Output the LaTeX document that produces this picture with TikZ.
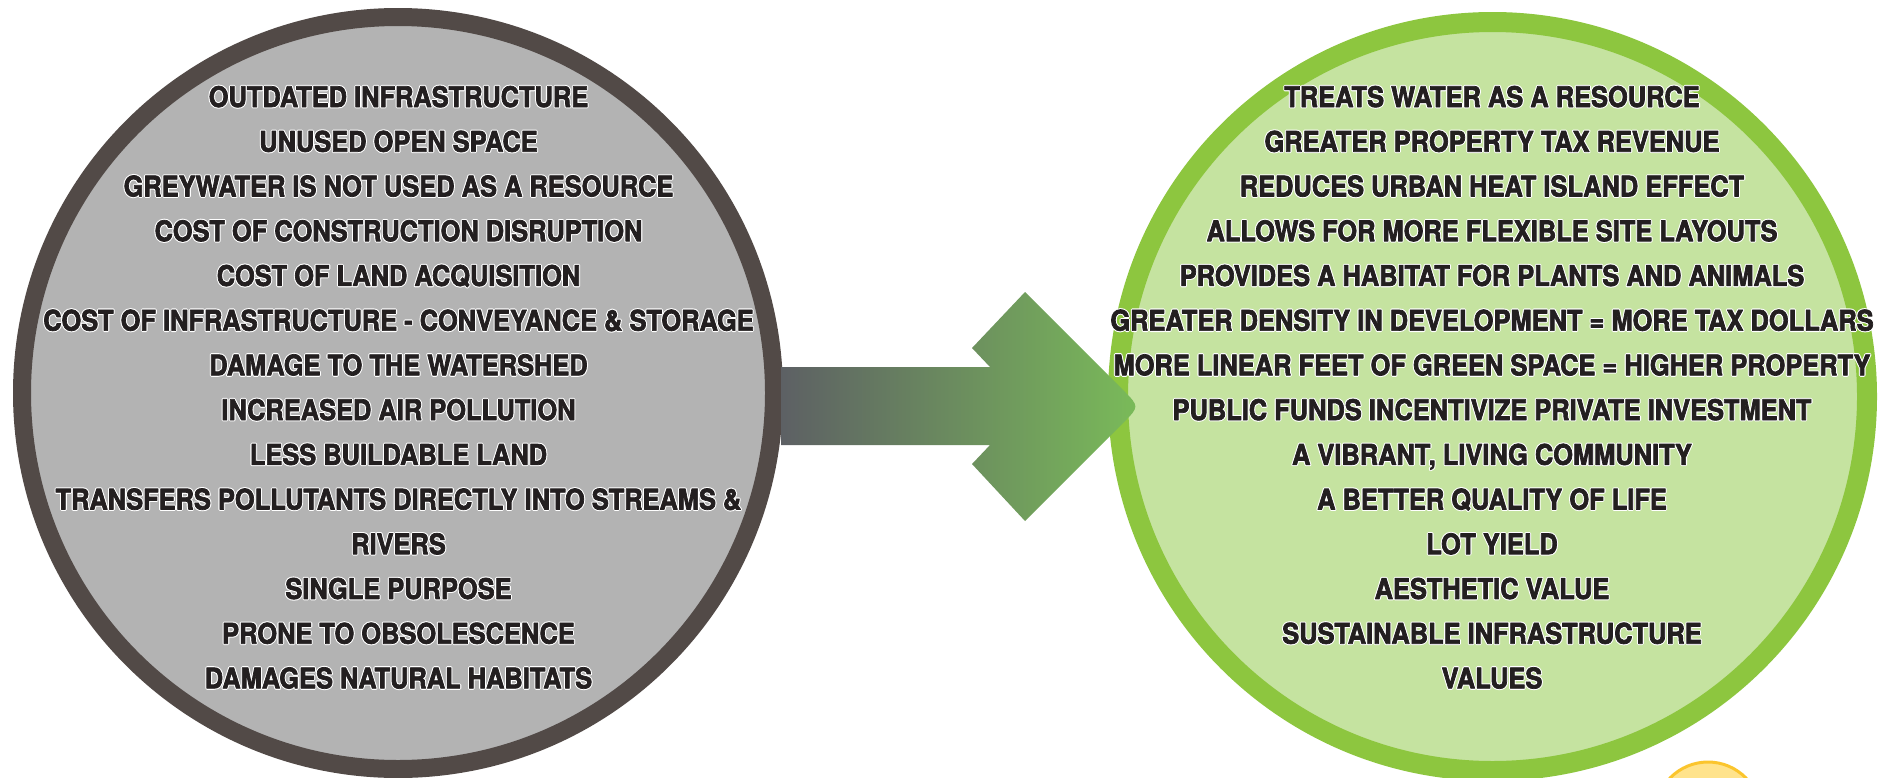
\documentclass[tikz,border=0pt]{standalone}
\usepackage{fontspec}
\newfontfamily\ftxt{TeX Gyre Heros}[FakeStretch=0.895,FakeBold=2.5]
\newfontfamily\fhalo{TeX Gyre Heros}[FakeStretch=0.895,FakeBold=10]
\definecolor{ringL}{HTML}{524A47}
\definecolor{fillL}{HTML}{B3B3B3}
\definecolor{ringR}{HTML}{8DC63F}
\definecolor{fillR}{HTML}{C5E3A0}
\definecolor{arrL}{HTML}{5D6064}
\definecolor{arrM}{HTML}{7E9E70}
\definecolor{arrR}{HTML}{7ABB59}
\definecolor{txt}{HTML}{231F20}
\definecolor{sunfill}{HTML}{FFE38C}
\definecolor{sunring}{HTML}{FBC52D}
\newcommand\otxt[1]{\makebox[0pt]{\fhalo\bfseries\color{white}#1}\makebox[0pt]{\ftxt\bfseries\color{txt}#1}}
\tikzset{item/.style={inner sep=0pt, anchor=base, line join=round,
  font=\fontsize{14.2pt}{16pt}\selectfont}}
\begin{document}
\begin{tikzpicture}[x=0.5pt,y=-0.5pt]
\useasboundingbox (0,0) rectangle (1895,777);
\clip (0,0) rectangle (1895,777);
% circles
\draw[ringL, fill=fillL, line width=9pt] (398,393) circle[radius=376];
\draw[ringR, fill=fillR, line width=10pt] (1492.5,396.5) circle[radius=374.5];
\draw[sunring, fill=sunfill, line width=1.5pt] (1708,815) circle[radius=53];
% arrow
\shade[left color=arrL, middle color=arrM, right color=arrR]
  (781,367) -- (990,367) -- (972,348) -- (1025,292) -- (1123,390)
  .. controls (1139.5,406.5) .. (1123,423) -- (1025,521) -- (972,464)
  -- (990,445) -- (781,445) -- cycle;
% texts
\foreach \t [count=\i] in {OUTDATED INFRASTRUCTURE, UNUSED OPEN SPACE,
  GREYWATER IS NOT USED AS A RESOURCE, COST OF CONSTRUCTION DISRUPTION,
  COST OF LAND ACQUISITION, COST OF INFRASTRUCTURE - CONVEYANCE \& STORAGE,
  DAMAGE TO THE WATERSHED, INCREASED AIR POLLUTION, LESS BUILDABLE LAND,
  TRANSFERS POLLUTANTS DIRECTLY INTO STREAMS \&, RIVERS, SINGLE PURPOSE,
  PRONE TO OBSOLESCENCE, DAMAGES NATURAL HABITATS}
  \node[item] (l\i) at (398.5,{107+44.72*(\i-1)}) {\otxt{\t}};
\foreach \t [count=\i] in {TREATS WATER AS A RESOURCE, GREATER PROPERTY TAX REVENUE,
  REDUCES URBAN HEAT ISLAND EFFECT, ALLOWS FOR MORE FLEXIBLE SITE LAYOUTS,
  PROVIDES A HABITAT FOR PLANTS AND ANIMALS,
  GREATER DENSITY IN DEVELOPMENT = MORE TAX DOLLARS,
  MORE LINEAR FEET OF GREEN SPACE = HIGHER PROPERTY,
  PUBLIC FUNDS INCENTIVIZE PRIVATE INVESTMENT, {A VIBRANT, LIVING COMMUNITY},
  A BETTER QUALITY OF LIFE, LOT YIELD, AESTHETIC VALUE,
  SUSTAINABLE INFRASTRUCTURE, VALUES}
  \node[item] (r\i) at (1492,{107+44.72*(\i-1)}) {\otxt{\t}};
\end{tikzpicture}
\end{document}
